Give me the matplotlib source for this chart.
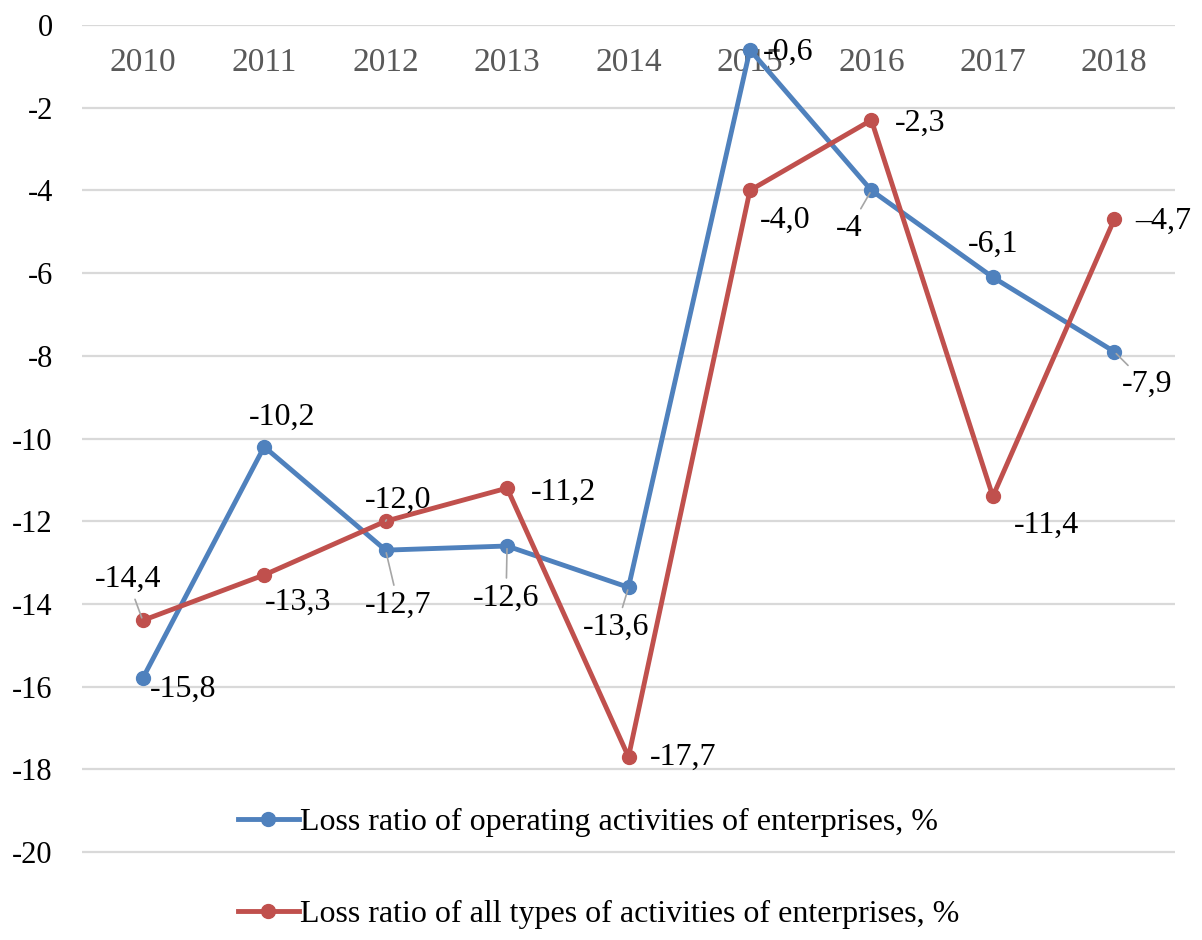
import matplotlib
matplotlib.use("Agg")
import matplotlib.pyplot as plt

years = ["2010", "2011", "2012", "2013", "2014", "2015", "2016", "2017", "2018"]
operating = [-15.8, -10.2, -12.7, -12.6, -13.6, -0.6, -4.0, -6.1, -7.9]
all_types = [-14.4, -13.3, -12.0, -11.2, -17.7, -4.0, -2.3, -11.4, -4.7]
operating_labels = ["-15,8", "-10,2", "-12,7", "-12,6", "-13,6", "-0,6", "-4", "-6,1", "-7,9"]
all_types_labels = ["-14,4", "-13,3", "-12,0", "-11,2", "-17,7", "-4,0", "-2,3", "-11,4", "\u20134,7"]
series_names = ["Loss ratio of operating activities of enterprises, %",
                "Loss ratio of all types of activities of enterprises, %"]
yticks = [0, -2, -4, -6, -8, -10, -12, -14, -16, -18, -20]

# label offsets (pixels) and whether a leader line is drawn
op_off = [(40, -11), (18, 29), (13, -55), (-1, -52), (-12, -40), (38, -3), (-22, -38), (0, 33), (33, -33)]
op_lead = [False, False, True, True, True, False, True, False, True]
all_off = [(-15, 41), (34, -27), (13, 21), (56, -4), (55, 0), (35, -30), (49, -3), (54, -29), (49, -2)]
all_lead = [True, False, True, False, False, False, False, False, False]

plt.rcParams['font.family'] = ['Liberation Serif', 'DejaVu Serif']

W, H = 1202, 940
fig = plt.figure(figsize=(W / 100, H / 100), dpi=100)
left, right, top = 82, 1175, 25
ax = fig.add_axes([left / W, 0, (right - left) / W, 1 - top / H])

px_per_unit = 41.35
ax.set_ylim(-(H - top) / px_per_unit, 0)
ax.set_xlim(-0.5, len(years) - 0.5)

for s in ax.spines.values():
    s.set_visible(False)
ax.set_xticks([])
ax.set_yticks(yticks)
ax.set_yticklabels([str(v) for v in yticks], fontsize=22, color='black')
ax.tick_params(axis='y', length=0, pad=21)
for v in yticks:
    ax.axhline(v, color='#d9d9d9', lw=1.6, zorder=0)

x = list(range(len(years)))
for i, yr in enumerate(years):
    ax.text(i, -0.92, yr, ha='center', va='center', fontsize=24, color='#595959', zorder=1)

blue = '#4f81bd'
red = '#c0504d'
ax.plot(x, operating, color=blue, lw=3.5, marker='o', ms=10, label=series_names[0], zorder=3)
ax.plot(x, all_types, color=red, lw=3.5, marker='o', ms=10, label=series_names[1], zorder=3)

def label(xs, ys, texts, offs, leads):
    for xi, yi, t, (dx, dy), ld in zip(xs, ys, texts, offs, leads):
        kw = {}
        if ld:
            kw['arrowprops'] = dict(arrowstyle='-', color='#a6a6a6', lw=1.2, shrinkA=2, shrinkB=2)
        ax.annotate(t, (xi, yi), xytext=(dx, dy), textcoords='offset pixels',
                    ha='center', va='center', fontsize=23, color='black', zorder=4, **kw)

label(x, operating, operating_labels, op_off, op_lead)
label(x, all_types, all_types_labels, all_off, all_lead)

leg = ax.legend(loc='upper left', bbox_to_anchor=(238 / W, 1 - 808 / H), bbox_transform=fig.transFigure,
                frameon=False, fontsize=23, handlelength=1.9, handletextpad=0.05,
                labelspacing=1.95, borderaxespad=0, borderpad=0)

fig.savefig('out.png', dpi=100)
